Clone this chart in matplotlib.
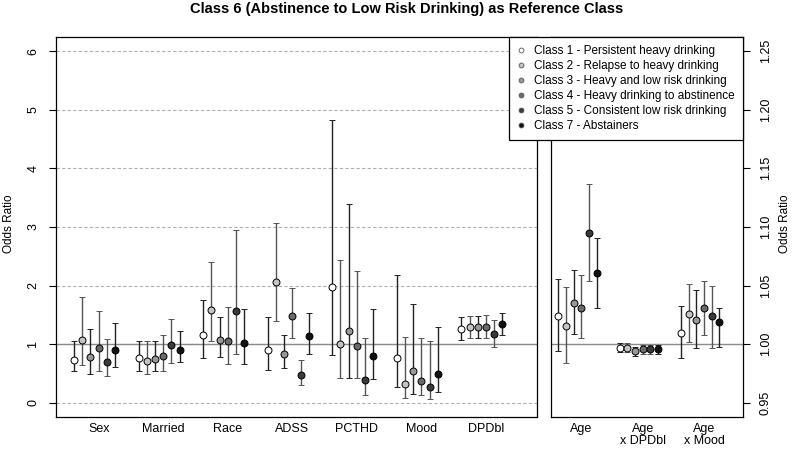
import numpy as np
import matplotlib
matplotlib.use("Agg")
import matplotlib.pyplot as plt
from matplotlib.lines import Line2D

plt.rcParams['font.family'] = ['Liberation Sans', 'DejaVu Sans']

title = "Class 6 (Abstinence to Low Risk Drinking) as Reference Class"

class_labels = ["Class 1 - Persistent heavy drinking",
                "Class 2 - Relapse to heavy drinking",
                "Class 3 - Heavy and low risk drinking",
                "Class 4 - Heavy drinking to abstinence",
                "Class 5 - Consistent low risk drinking",
                "Class 7 - Abstainers"]

left_vars = ["Sex", "Married", "Race", "ADSS", "PCTHD", "Mood", "DPDbl"]
right_vars = ["Age", "Age\nx DPDbl", "Age\nx Mood"]

# odds ratios (rows = classes, cols = variables)
left_est = [
    [0.74, 0.77, 1.15, 0.91, 1.98, 0.77, 1.26],
    [1.07, 0.71, 1.58, 2.06, 1.01, 0.33, 1.29],
    [0.79, 0.75, 1.07, 0.84, 1.22, 0.54, 1.29],
    [0.93, 0.80, 1.05, 1.48, 0.97, 0.38, 1.29],
    [0.70, 0.98, 1.56, 0.47, 0.39, 0.27, 1.17],
    [0.91, 0.91, 1.02, 1.14, 0.80, 0.49, 1.34],
]
left_lo = [
    [0.54, 0.55, 0.76, 0.57, 0.82, 0.27, 1.08],
    [0.64, 0.49, 1.05, 1.39, 0.42, 0.09, 1.11],
    [0.50, 0.54, 0.78, 0.60, 0.43, 0.16, 1.11],
    [0.54, 0.55, 0.67, 1.11, 0.42, 0.13, 1.10],
    [0.46, 0.68, 0.83, 0.30, 0.13, 0.06, 0.95],
    [0.62, 0.69, 0.66, 0.84, 0.40, 0.18, 1.16],
]
left_hi = [
    [1.05, 1.05, 1.75, 1.47, 4.82, 2.18, 1.47],
    [1.80, 1.05, 2.41, 3.06, 2.43, 1.13, 1.49],
    [1.26, 1.06, 1.47, 1.15, 3.39, 1.69, 1.49],
    [1.56, 1.16, 1.64, 1.96, 2.25, 1.10, 1.50],
    [1.09, 1.43, 2.95, 0.73, 1.10, 1.05, 1.41],
    [1.36, 1.22, 1.60, 1.53, 1.61, 1.30, 1.53],
]

right_est = [
    [1.024, 0.997, 1.010],
    [1.016, 0.997, 1.026],
    [1.035, 0.994, 1.021],
    [1.031, 0.996, 1.031],
    [1.095, 0.996, 1.024],
    [1.061, 0.996, 1.019],
]
right_lo = [
    [0.994, 0.993, 0.988],
    [0.984, 0.993, 1.002],
    [1.009, 0.990, 0.997],
    [1.005, 0.992, 1.008],
    [1.054, 0.992, 0.997],
    [1.031, 0.992, 0.998],
]
right_hi = [
    [1.056, 1.001, 1.033],
    [1.049, 1.001, 1.051],
    [1.063, 0.998, 1.046],
    [1.059, 0.999, 1.054],
    [1.137, 0.999, 1.050],
    [1.091, 0.999, 1.031],
]

fills = ["#ffffff", "#c4c4c4", "#989898", "#6a6a6a", "#3a3a3a", "#111111"]
bar_cols = ["#222222", "#555555", "#222222", "#555555", "#555555", "#222222"]

W, H = 800, 451
fig = plt.figure(figsize=(W / 100, H / 100), dpi=100)
axL = fig.add_axes([56 / W, 1 - 417 / H, (537 - 56) / W, (417 - 37) / H])
axR = fig.add_axes([551 / W, 1 - 417 / H, (743 - 551) / W, (417 - 37) / H])


def draw(ax, est, lo, hi, step):
    n = len(est[0])
    xs = np.arange(1, n + 1)
    for k in range(6):
        e = np.array(est[k])
        yerr = [e - np.array(lo[k]), np.array(hi[k]) - e]
        ax.errorbar(xs + (k - 3) * step, e, yerr=yerr, fmt='o', ms=5,
                    mfc=fills[k], mec='black', mew=0.7, ecolor=bar_cols[k],
                    elinewidth=1.0, capsize=2, capthick=1.0, zorder=3)
    ax.axhline(1, color='#8a8a8a', lw=1.0, zorder=1)
    ax.set_xticks(xs)
    ax.tick_params(axis='x', length=0, pad=4, labelsize=9)
    for s in ax.spines.values():
        s.set_linewidth(0.9)


draw(axL, left_est, left_lo, left_hi, 0.127)
axL.set_xlim(0.339, 7.79)
axL.set_ylim(-0.24, 6.24)
axL.set_xticklabels(left_vars)
axL.set_yticks(range(7))
for v in range(7):
    axL.axhline(v, color='#b0b0b0', lw=0.8, ls=(0, (3, 2)), zorder=0)
axL.tick_params(axis='y', length=5, pad=7, labelsize=9, labelrotation=90)
for t in axL.get_yticklabels():
    t.set_va('center')

draw(axR, right_est, right_lo, right_hi, 0.1255)
axR.set_xlim(0.506, 3.636)
axR.set_ylim(0.938, 1.262)
axR.set_xticklabels(right_vars, linespacing=1.0)
yt = [0.95, 1.00, 1.05, 1.10, 1.15, 1.20, 1.25]
axR.set_yticks(yt)
axR.set_yticklabels(["%.2f" % v for v in yt])
axR.yaxis.tick_right()
axR.tick_params(axis='y', length=5, pad=7, labelsize=9, labelrotation=90)
for t in axR.get_yticklabels():
    t.set_va('center')

fig.text(9 / W, 1 - 224 / H, "Odds Ratio", rotation=90, ha='center',
         va='center', fontsize=8.5)
fig.text(785 / W, 1 - 224 / H, "Odds Ratio", rotation=90, ha='center',
         va='center', fontsize=8.5)
fig.text(0.508, 1 - 13 / H, title, ha='center', va='baseline',
         fontsize=10.5, fontweight='bold')

handles = [Line2D([], [], ls='none', marker='o', ms=3.5, mfc=fills[k],
                  mec='#555555', mew=0.6) for k in range(6)]
leg = fig.legend(handles, class_labels, loc='upper right',
                 bbox_to_anchor=(743 / W, 1 - 37 / H), fontsize=8.5,
                 frameon=True, fancybox=False, framealpha=1, edgecolor='black',
                 handlelength=0.6, handletextpad=0.8, labelspacing=0.25,
                 borderpad=0.7, borderaxespad=0)
leg.get_frame().set_linewidth(0.9)
leg.set_zorder(10)

fig.savefig("out.png", dpi=100)
